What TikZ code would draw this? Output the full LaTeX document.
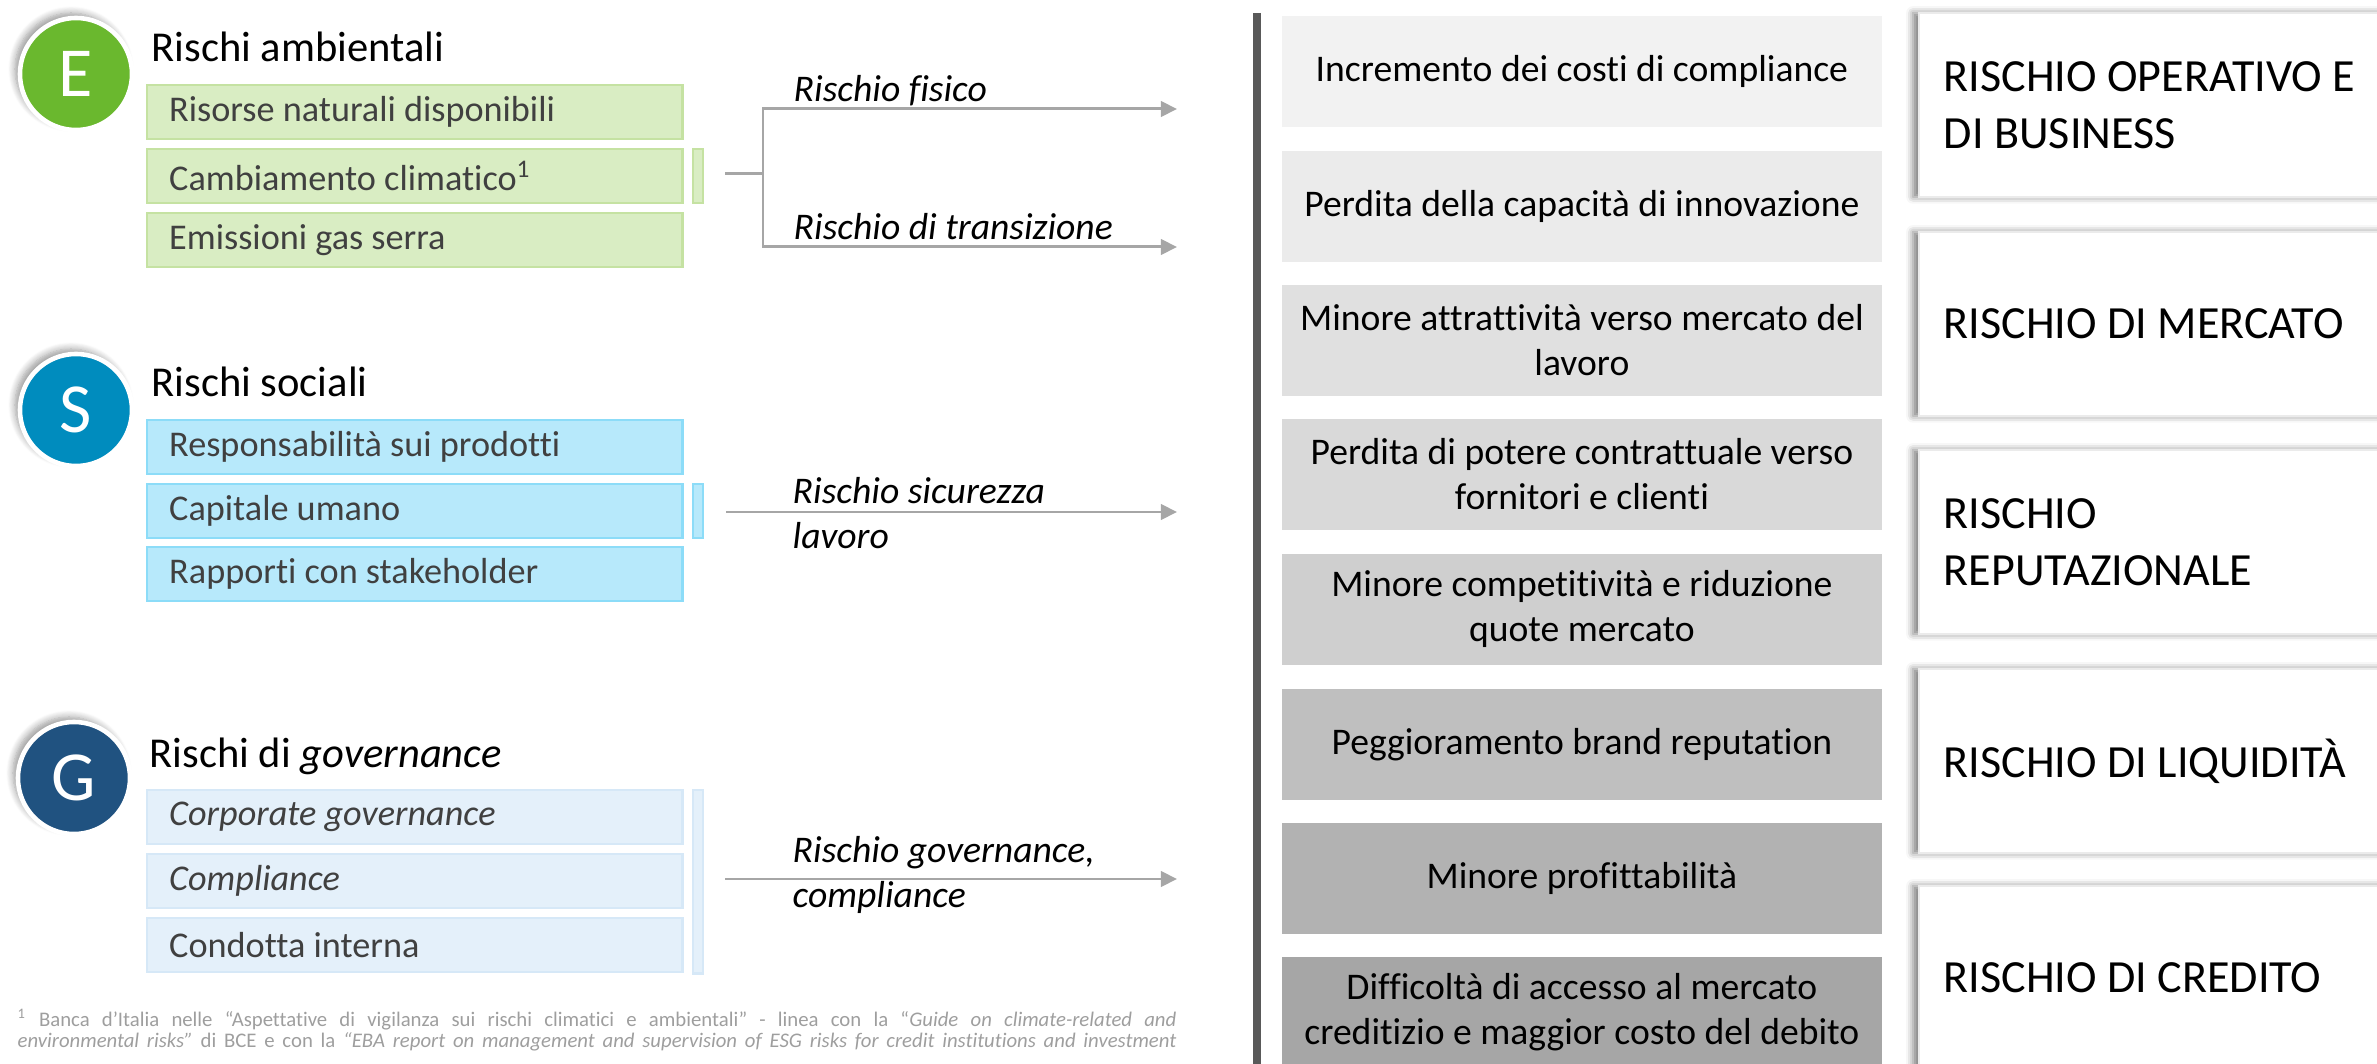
\documentclass[tikz,border=0pt]{standalone}
\usepackage{fontspec}
\setmainfont{Carlito}[Ligatures=CommonOff]
\usetikzlibrary{arrows.meta,shadows.blur}
\definecolor{env_green}{RGB}{106,184,46}
\definecolor{env_fill}{RGB}{217,237,195}
\definecolor{env_line}{RGB}{197,226,162}
\definecolor{soc_blue}{RGB}{0,140,190}
\definecolor{soc_fill}{RGB}{183,233,251}
\definecolor{soc_line}{RGB}{140,220,248}
\definecolor{gov_blue}{RGB}{32,82,128}
\definecolor{gov_fill}{RGB}{228,240,250}
\definecolor{gov_line}{RGB}{214,232,247}
\definecolor{arrow_gray}{RGB}{166,166,166}
\definecolor{divider_gray}{RGB}{89,89,89}
\begin{document}
\begin{tikzpicture}[x=0.01cm, y=-0.01cm, line join=miter]
  \tikzstyle{letter}=[circle,minimum size=1.12cm,inner sep=0pt,draw=white,line width=1.3pt,text=white,
    font=\fontsize{20}{22}\selectfont,blur shadow={shadow xshift=-0.05cm,shadow yshift=0.05cm,shadow blur steps=8}]
  \tikzstyle{title}=[anchor=base west,inner sep=0pt,font=\fontsize{12.1}{14}\selectfont]
  \tikzstyle{tight_words}=[execute at begin node={\spaceskip=0pt\xspaceskip=0pt\parfillskip=0pt plus 1fil\relax}]
  \tikzstyle{risk_box}=[anchor=north west,inner xsep=0.22cm,inner ysep=0pt,text width=4.91cm,minimum height=0.54cm,
    align=left,tight_words,line width=0.7pt,text=black!75,font=\fontsize{10.3}{12}\selectfont]
  \tikzstyle{side_bar}=[anchor=north west,inner sep=0pt,minimum width=0.1cm,line width=0.7pt]
  \tikzstyle{risk_arrow}=[draw=arrow_gray,line width=0.85pt,-{Triangle[length=4.6pt,width=4.4pt]}]
  \tikzstyle{arrow_label}=[anchor=base west,inner sep=0pt,align=left,font=\fontsize{10.7}{13}\selectfont\itshape]
  \tikzstyle{impact_box}=[anchor=north west,inner sep=0pt,minimum width=6cm,minimum height=1.11cm,align=center,
    font=\fontsize{10.7}{12.8}\selectfont]
  \tikzstyle{outcome_box}=[anchor=north west,fill=white,draw=black!8,line width=0.5pt,inner xsep=0.25cm,inner ysep=0pt,
    text width=4.5cm,minimum height=1.84cm,align=left,tight_words,font=\fontsize{13.1}{16.2}\selectfont,
    blur shadow={shadow xshift=-0.06cm,shadow yshift=0cm,shadow opacity=50}]
  \tikzstyle{foot_line}=[anchor=base west,inner sep=0pt,text=black!38,font=\fontsize{5.9}{6.5}\selectfont]

  \useasboundingbox (0,0) rectangle (2377,1064);

  % E - rischi ambientali
  \node[letter,fill=env_green] (e_circle) at (76,74) {E};
  \node[title] (e_title) at (151,62) {Rischi ambientali};
  \node[risk_box,fill=env_fill,draw=env_line] (e_box1) at (146,84) {Risorse naturali disponibili};
  \node[risk_box,fill=env_fill,draw=env_line] (e_box2) at (146,148) {Cambiamento climatico\textsuperscript{1}};
  \node[risk_box,fill=env_fill,draw=env_line] (e_box3) at (146,212) {Emissioni gas serra};
  \node[side_bar,fill=env_fill,draw=env_line,minimum height=0.54cm] (e_bar) at (692,148) {};

  % S - rischi sociali
  \node[letter,fill=soc_blue] (s_circle) at (76,410) {S};
  \node[title] (s_title) at (151,397) {Rischi sociali};
  \node[risk_box,fill=soc_fill,draw=soc_line] (s_box1) at (146,419) {Responsabilità sui prodotti};
  \node[risk_box,fill=soc_fill,draw=soc_line] (s_box2) at (146,483) {Capitale umano};
  \node[risk_box,fill=soc_fill,draw=soc_line] (s_box3) at (146,546) {Rapporti con stakeholder};
  \node[side_bar,fill=soc_fill,draw=soc_line,minimum height=0.54cm] (s_bar) at (692,483) {};

  % G - rischi di governance
  \node[letter,fill=gov_blue] (g_circle) at (74,778) {G};
  \node[title] (g_title) at (149,768) {Rischi di \textit{governance}};
  \node[risk_box,fill=gov_fill,draw=gov_line] (g_box1) at (146,789) {\textit{Corporate governance}};
  \node[risk_box,fill=gov_fill,draw=gov_line] (g_box2) at (146,853) {\textit{Compliance}};
  \node[risk_box,fill=gov_fill,draw=gov_line] (g_box3) at (146,917) {Condotta interna};
  \node[side_bar,fill=gov_fill,draw=gov_line,minimum height=1.83cm] (g_bar) at (692,789) {};

  % connectors
  \coordinate (e_start) at (725,174);
  \coordinate (e_fork) at (763,174);
  \coordinate (e_phys) at (1177,109);
  \coordinate (e_trans) at (1177,247);
  \coordinate (s_start) at (726,512);
  \coordinate (s_end) at (1177,512);
  \coordinate (g_start) at (725,879);
  \coordinate (g_end) at (1177,879);
  \draw[draw=arrow_gray,line width=0.85pt] (e_start) -- (e_fork);
  \draw[risk_arrow] (e_fork) |- (e_phys);
  \draw[risk_arrow] (e_fork) |- (e_trans);
  \draw[risk_arrow] (s_start) -- (s_end);
  \draw[risk_arrow] (g_start) -- (g_end);
  \node[arrow_label] (lbl_phys) at (793,102) {Rischio fisico};
  \node[arrow_label] (lbl_trans) at (793,240) {Rischio di transizione};
  \node[arrow_label] (lbl_safety) at (792,549) {Rischio sicurezza\\lavoro};
  \node[arrow_label] (lbl_gov) at (792,908) {Rischio governance,\\compliance};

  % divider
  \coordinate (div_top) at (1257,13);
  \coordinate (div_bot) at (1257,1064);
  \draw[draw=divider_gray,line width=2.3pt] (div_top) -- (div_bot);

  % impatti
  \node[impact_box,fill=black!5] (imp1) at (1281,15) {Incremento dei costi di compliance};
  \node[impact_box,fill=black!8] (imp2) at (1281,150) {Perdita della capacità di innovazione};
  \node[impact_box,fill=black!12] (imp3) at (1281,284) {Minore attrattività verso mercato del\\lavoro};
  \node[impact_box,fill=black!15] (imp4) at (1281,418) {Perdita di potere contrattuale verso\\fornitori e clienti};
  \node[impact_box,fill=black!19] (imp5) at (1281,553) {Minore competitività e riduzione\\quote mercato};
  \node[impact_box,fill=black!25] (imp6) at (1281,688) {Peggioramento brand reputation};
  \node[impact_box,fill=black!30] (imp7) at (1281,822) {Minore profittabilità};
  \node[impact_box,fill=black!35] (imp8) at (1281,956) {Difficoltà di accesso al mercato\\creditizio e maggior costo del debito};

  % rischi finanziari
  \node[outcome_box] (out1) at (1918,12) {RISCHIO OPERATIVO E\\DI BUSINESS};
  \node[outcome_box] (out2) at (1918,231) {RISCHIO DI MERCATO};
  \node[outcome_box] (out3) at (1918,449) {RISCHIO\\REPUTAZIONALE};
  \node[outcome_box] (out4) at (1918,668) {RISCHIO DI LIQUIDITÀ};
  \node[outcome_box] (out5) at (1918,885) {RISCHIO DI CREDITO};

  % nota
  \node[foot_line] (foot_a) at (17,1027) {\makebox[11.58cm][s]{\textsuperscript{1} Banca d’Italia nelle “Aspettative di vigilanza sui rischi climatici e ambientali” - linea con la “\textit{Guide on climate-related and}}};
  \node[foot_line] (foot_b) at (17,1048) {\makebox[11.58cm][s]{\textit{environmental risks”} di BCE e con la \textit{“EBA report on management and supervision of ESG risks for credit institutions and investment}}};
\end{tikzpicture}
\end{document}
